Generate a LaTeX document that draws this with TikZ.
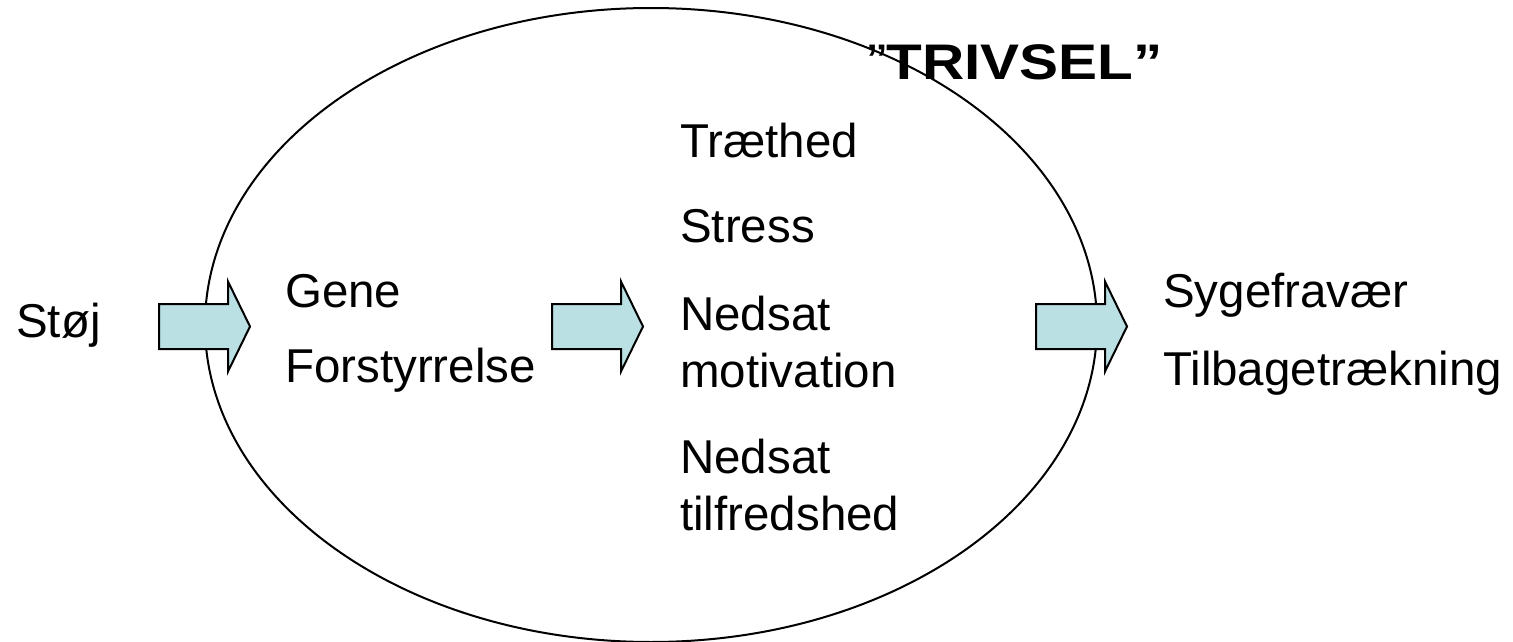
\documentclass[tikz,border=0pt]{standalone}
\usepackage{graphicx}
\usepackage{fontspec}
\setmainfont{Liberation Sans}
\definecolor{arrowfill}{RGB}{186,224,228}
\begin{document}
\begin{tikzpicture}[x=1pt,y=-1pt,
  lbl/.style={anchor=base west,inner sep=0pt,font=\fontsize{47.5}{57}\selectfont},
  title/.style={anchor=base west,inner sep=0pt,font=\fontsize{50}{57}\selectfont},
  blockarrow/.pic={\draw[line width=2pt,fill=arrowfill,line join=miter]
     (0,-22.5) -- (69,-22.5) -- (69,-45) -- (91,0) -- (69,45) -- (69,22.5) -- (0,22.5) -- cycle;}]
\useasboundingbox (0,0) rectangle (1513,642);
\draw[line width=2pt] (651,325) ellipse [x radius=446, y radius=317];
\pic at (159,326.5) {blockarrow};
\pic at (552,326.5) {blockarrow};
\pic at (1036,326.5) {blockarrow};
\node[lbl] (stoj) at (16,337) {Støj};
\node[lbl] (gene) at (285,307) {Gene};
\node[lbl] (forst) at (285,382) {Forstyrrelse};
\node[lbl] (traet) at (680,157) {Træthed};
\node[lbl] (stress) at (680,242) {Stress};
\node[lbl] (nedsat1) at (680,330) {Nedsat};
\node[lbl] (motiv) at (680,387) {motivation};
\node[lbl] (nedsat2) at (680,473) {Nedsat};
\node[lbl] (tilfr) at (680,530) {tilfredshed};
\node[lbl] (syge) at (1163,307) {Sygefravær};
\node[lbl] (tilb) at (1163,385) {Tilbagetrækning};
\node[title] (trivsel) at (867,80) {\scalebox{1.17}[1]{”\textbf{TRIVSEL”}}};
\end{tikzpicture}
\end{document}
